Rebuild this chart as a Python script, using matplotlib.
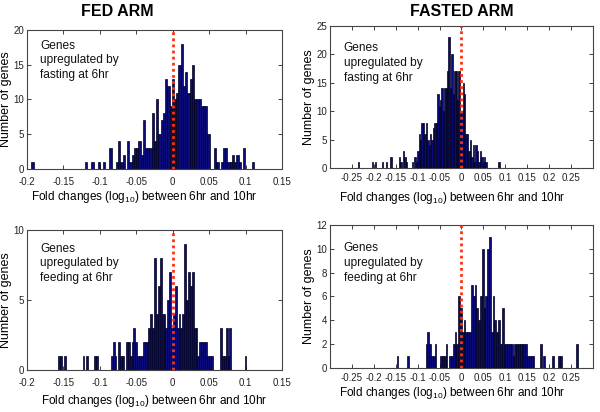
import numpy as np
import matplotlib
matplotlib.use("Agg")
import matplotlib.pyplot as plt

plt.rcParams['font.family'] = ['Liberation Sans', 'DejaVu Sans']
plt.rcParams['mathtext.default'] = 'regular'

# ---------------- data ----------------
titles = ["FED ARM", "FASTED ARM"]
notes = ["Genes\nupregulated by\nfasting at 6hr", "Genes\nupregulated by\nfeeding at 6hr"]
xlabel = "Fold changes (log$_{10}$) between 6hr and 10hr"
ylabel = "Number of genes"

# bin range (low edge, high edge) of each 100-bin histogram, and counts per bin
fed_fasting_range = (-0.1941, 0.1119)
fed_fasting_counts = [1, 0, 0, 0, 0, 0, 0, 0, 0, 0,
                      0, 0, 0, 0, 0, 0, 0, 0, 0, 0,
                      0, 0, 0, 0, 1, 0, 0, 1, 0, 0,
                      1, 0, 1, 0, 0, 3, 0, 0, 1, 4,
                      1, 2, 0, 4, 1, 2, 3, 3, 4, 2,
                      7, 3, 3, 3, 8, 4, 10, 5, 7, 8,
                      13, 12, 9, 13, 10, 11, 15, 18, 12, 14,
                      11, 13, 15, 10, 10, 10, 9, 9, 9, 5,
                      0, 0, 3, 1, 0, 1, 3, 3, 1, 1,
                      2, 1, 2, 1, 0, 3, 0, 0, 0, 1]

fasted_fasting_range = (-0.2369, 0.0871)
fasted_fasting_counts = [1, 0, 0, 0, 0, 0, 0, 0, 0, 0,
                         1, 0, 1, 0, 0, 0, 0, 1, 0, 0,
                         1, 0, 0, 2, 0, 0, 0, 0, 0, 2,
                         1, 0, 3, 2, 1, 0, 0, 0, 1, 0,
                         2, 1, 3, 6, 5, 8, 8, 6, 8, 5,
                         4, 6, 5, 7, 8, 8, 13, 11, 12, 14,
                         10, 14, 14, 17, 23, 14, 20, 13, 17, 17,
                         12, 17, 10, 10, 15, 13, 6, 6, 3, 5,
                         2, 4, 1, 4, 3, 1, 3, 2, 1, 2,
                         1, 0, 0, 0, 0, 0, 0, 0, 0, 1]

fed_feeding_range = (-0.15736, 0.10114)
fed_feeding_counts = [1, 1, 0, 1, 0, 0, 0, 0, 0, 0,
                      0, 0, 0, 1, 0, 1, 0, 0, 0, 1,
                      1, 0, 0, 0, 0, 0, 0, 0, 1, 2,
                      1, 0, 2, 1, 1, 0, 2, 2, 1, 2,
                      3, 2, 1, 1, 1, 2, 2, 2, 3, 4,
                      3, 8, 4, 6, 8, 4, 4, 3, 5, 7,
                      3, 4, 6, 3, 4, 3, 4, 9, 5, 7,
                      6, 7, 3, 3, 1, 2, 2, 2, 2, 1,
                      1, 1, 0, 0, 0, 0, 3, 1, 1, 3,
                      1, 3, 0, 0, 0, 0, 0, 0, 0, 1]

fasted_feeding_range = (-0.14803, 0.2658)
fasted_feeding_counts = [1, 0, 0, 0, 0, 0, 1, 0, 0, 0,
                         0, 0, 0, 0, 0, 0, 2, 3, 2, 1,
                         1, 2, 0, 0, 1, 1, 1, 2, 0, 1,
                         1, 2, 3, 2, 6, 5, 3, 4, 3, 3,
                         3, 7, 6, 7, 5, 4, 6, 10, 5, 6,
                         10, 11, 3, 6, 4, 3, 4, 2, 5, 2,
                         2, 2, 2, 2, 1, 2, 2, 2, 2, 2,
                         2, 2, 1, 1, 1, 1, 0, 0, 0, 2,
                         0, 1, 0, 0, 0, 0, 1, 0, 0, 1,
                         1, 0, 0, 0, 0, 0, 0, 0, 0, 2]

fed_xticks = [-0.2, -0.15, -0.1, -0.05, 0, 0.05, 0.1, 0.15]
fed_xticklabels = ["-0.2", "-0.15", "-0.1", "-0.05", "0", "0.05", "0.1", "0.15"]
fasted_xticks = [-0.25, -0.2, -0.15, -0.1, -0.05, 0, 0.05, 0.1, 0.15, 0.2, 0.25]
fasted_xticklabels = ["-0.25", "-0.2", "-0.15", "-0.1", "-0.05", "0", "0.05", "0.1",
                      "0.15", "0.2", "0.25"]

# ---------------- figure ----------------
fig = plt.figure(figsize=(6.0, 4.12), dpi=100)

panels = [
    # rect, range, counts, xlim, xticks, labels, ylim, yticks, note, note_y, tick pad, xlabel coords
    ([0.045, 0.590, 0.425, 0.337], fed_fasting_range, fed_fasting_counts,
     (-0.2, 0.15), fed_xticks, fed_xticklabels, 20, [0, 5, 10, 15, 20], notes[0],
     0.93, 6.0, (0.458, -0.205)),
    ([0.550, 0.592, 0.438, 0.345], fasted_fasting_range, fasted_fasting_counts,
     (-0.3, 0.3), fasted_xticks, fasted_xticklabels, 25, [0, 5, 10, 15, 20, 25], notes[0],
     0.885, 3.5, (0.463, -0.207)),
    ([0.045, 0.102, 0.425, 0.340], fed_feeding_range, fed_feeding_counts,
     (-0.2, 0.15), fed_xticks, fed_xticklabels, 10, [0, 5, 10], notes[1],
     0.91, 6.0, (0.497, -0.218)),
    ([0.550, 0.107, 0.438, 0.347], fasted_feeding_range, fasted_feeding_counts,
     (-0.3, 0.3), fasted_xticks, fasted_xticklabels, 12, [0, 2, 4, 6, 8, 10, 12], notes[1],
     0.88, 3.5, (0.464, -0.178)),
]

bar_color = '#0a0a78'
for rect, rng, counts, xlim, xt, xtl, ymax, yt, note, note_y, tpad, xlc in panels:
    ax = fig.add_axes(rect)
    counts = np.asarray(counts)
    edges = np.linspace(rng[0], rng[1], len(counts) + 1)
    centers = 0.5 * (edges[:-1] + edges[1:])
    width = edges[1] - edges[0]
    ax.bar(centers, counts, width=width, color=bar_color, edgecolor='#000020',
           linewidth=0.5, align='center', zorder=2)
    ax.axvline(0, color='#ff3010', linestyle=(0, (1, 1.2)), linewidth=2.0, zorder=3)
    ax.set_xlim(*xlim)
    ax.set_ylim(0, ymax)
    ax.set_xticks(xt)
    ax.set_xticklabels(xtl)
    ax.set_yticks(yt)
    ax.tick_params(direction='in', length=3, width=0.6, top=True, right=True,
                   labelsize=7, colors='#222222')
    ax.tick_params(axis='x', pad=tpad)
    ax.tick_params(axis='y', pad=2)
    for s in ax.spines.values():
        s.set_color('#444444')
        s.set_linewidth(0.8)
    ax.set_xlabel(xlabel, fontsize=8.5, va='center')
    ax.xaxis.set_label_coords(*xlc)
    ax.set_ylabel(ylabel, fontsize=9, labelpad=1)
    ax.text(0.052, note_y, note, transform=ax.transAxes, fontsize=8.6,
            va='top', ha='left', linespacing=1.3, color='#111111')

fig.text(117 / 600, 1 - 12 / 412, titles[0], fontsize=11.5, fontweight='bold',
         ha='center', va='center')
fig.text(462 / 600, 1 - 12 / 412, titles[1], fontsize=11.5, fontweight='bold',
         ha='center', va='center')

fig.savefig("out.png", dpi=100)
